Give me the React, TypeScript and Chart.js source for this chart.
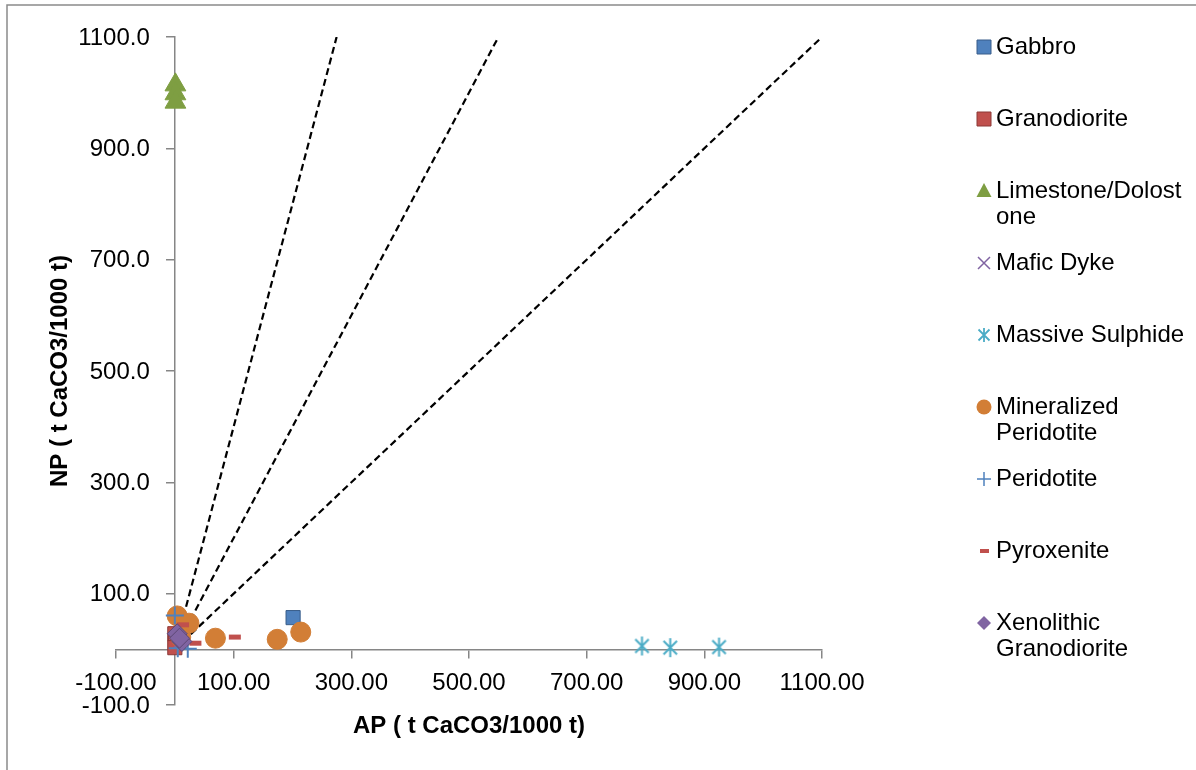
import React, { useEffect, useRef } from 'react';
import { Chart, registerables } from 'chart.js';

Chart.register(...registerables);

// ---------- data ----------
const AP_TICKS = [-100, 100, 300, 500, 700, 900, 1100];
const NP_TICKS = [-100, 100, 300, 500, 700, 900, 1100];

const gabbro = [{ x: 201, y: 57 }];
const granodiorite = [{ x: 0, y: 28 }, { x: 1, y: 12 }, { x: 0, y: 3 }];
const limestone = [{ x: 1, y: 1014 }, { x: 1, y: 998 }, { x: 1, y: 983 }];
const maficDyke = [{ x: 8, y: 12 }];
const massiveSulphide = [{ x: 794, y: 6 }, { x: 842, y: 3 }, { x: 925, y: 4 }];
const mineralizedPeridotite = [
  { x: 4, y: 60 }, { x: 24, y: 47 }, { x: 10, y: 22 },
  { x: 69, y: 20 }, { x: 174, y: 18 }, { x: 214, y: 31 },
];
const peridotite = [{ x: 0, y: 61 }, { x: 22, y: 1 }, { x: 5, y: 2 }];
const pyroxenite = [{ x: 14, y: 44 }, { x: 35, y: 11 }, { x: 102, y: 22 }];
const xenolithic = [{ x: 4, y: 28 }, { x: 12, y: 14 }, { x: 8, y: 20 }];

// NP/AP reference lines (from origin)
const ratioAP = [275, 550, 1100];
const ratioNP = [1100, 1100, 1100];

const legendLines = [
  ['Gabbro'],
  ['Granodiorite'],
  ['Limestone/Dolost', 'one'],
  ['Mafic Dyke'],
  ['Massive Sulphide'],
  ['Mineralized', 'Peridotite'],
  ['Peridotite'],
  ['Pyroxenite'],
  ['Xenolithic', 'Granodiorite'],
];

const FONT = "'Liberation Sans', Arial, sans-serif";

const C = {
  blue: '#4F81BD', blueDark: '#385D8A',
  red: '#C0504D', redDark: '#8C3836',
  green: '#7E9E42', greenDark: '#6A8835',
  purple: '#8064A2', purpleDark: '#5C4776',
  teal: '#4BACC6',
  orange: '#D27E36',
};

function asteriskCanvas(size: number, color: string, lw: number) {
  const c = document.createElement('canvas');
  c.width = size; c.height = size;
  const g = c.getContext('2d')!;
  g.strokeStyle = color; g.lineWidth = lw;
  const m = size / 2, r = size / 2 - 1;
  const d = r * Math.SQRT1_2;
  g.beginPath();
  g.moveTo(m, m - r); g.lineTo(m, m + r);
  g.moveTo(m - d, m - d); g.lineTo(m + d, m + d);
  g.moveTo(m + d, m - d); g.lineTo(m - d, m + d);
  g.stroke();
  return c;
}

type Kind = 'rect' | 'triangle' | 'crossRot' | 'asterisk' | 'circle' | 'cross' | 'dash' | 'rectRot';
const legendMarkers: { kind: Kind; fill: string; stroke: string }[] = [
  { kind: 'rect', fill: C.blue, stroke: C.blueDark },
  { kind: 'rect', fill: C.red, stroke: C.redDark },
  { kind: 'triangle', fill: C.green, stroke: C.green },
  { kind: 'crossRot', fill: C.purple, stroke: C.purple },
  { kind: 'asterisk', fill: C.teal, stroke: C.teal },
  { kind: 'circle', fill: C.orange, stroke: C.orange },
  { kind: 'cross', fill: C.blue, stroke: C.blue },
  { kind: 'dash', fill: C.red, stroke: C.red },
  { kind: 'rectRot', fill: C.purple, stroke: C.purple },
];

function drawMarker(ctx: CanvasRenderingContext2D, kind: Kind, x: number, y: number, fill: string, stroke: string) {
  ctx.save();
  ctx.fillStyle = fill; ctx.strokeStyle = stroke; ctx.lineWidth = 1;
  ctx.beginPath();
  switch (kind) {
    case 'rect':
      ctx.rect(x - 7, y - 7, 14, 14); ctx.fill(); ctx.stroke(); break;
    case 'triangle':
      ctx.moveTo(x, y - 8); ctx.lineTo(x + 7.5, y + 6); ctx.lineTo(x - 7.5, y + 6); ctx.closePath(); ctx.fill(); break;
    case 'crossRot':
      ctx.lineWidth = 1.5;
      ctx.moveTo(x - 6, y - 6); ctx.lineTo(x + 6, y + 6); ctx.moveTo(x + 6, y - 6); ctx.lineTo(x - 6, y + 6); ctx.stroke(); break;
    case 'asterisk': {
      ctx.lineWidth = 1.8;
      ctx.moveTo(x, y - 7); ctx.lineTo(x, y + 7);
      ctx.moveTo(x - 5.5, y - 5.5); ctx.lineTo(x + 5.5, y + 5.5); ctx.moveTo(x + 5.5, y - 5.5); ctx.lineTo(x - 5.5, y + 5.5);
      ctx.stroke(); break;
    }
    case 'circle':
      ctx.arc(x, y, 7.5, 0, Math.PI * 2); ctx.fill(); break;
    case 'cross':
      ctx.lineWidth = 1.5;
      ctx.moveTo(x - 7, y); ctx.lineTo(x + 7, y); ctx.moveTo(x, y - 7); ctx.lineTo(x, y + 7); ctx.stroke(); break;
    case 'dash':
      ctx.fillRect(x - 4, y - 2, 9, 4); break;
    case 'rectRot':
      ctx.moveTo(x, y - 7); ctx.lineTo(x + 7, y); ctx.lineTo(x, y + 7); ctx.lineTo(x - 7, y); ctx.closePath(); ctx.fill(); break;
  }
  ctx.restore();
}

const decorPlugin = {
  id: 'decor',
  beforeDraw(chart: any) {
    const { ctx, width, height } = chart;
    ctx.save();
    ctx.fillStyle = '#fff';
    ctx.fillRect(0, 0, width, height);
    ctx.strokeStyle = '#8A8A8A';
    ctx.lineWidth = 1.5;
    ctx.beginPath();
    ctx.moveTo(7, height);
    ctx.lineTo(7, 5);
    ctx.lineTo(width, 5);
    ctx.stroke();
    ctx.restore();
  },
  afterDraw(chart: any) {
    const { ctx, chartArea, scales } = chart;
    ctx.save();
    ctx.fillStyle = '#000';

    // y tick labels (left of the axis drawn at AP = 0)
    const yScale = scales.y;
    const axisX = scales.x.getPixelForValue(0);
    ctx.font = `24px ${FONT}`;
    ctx.textAlign = 'right';
    ctx.textBaseline = 'middle';
    yScale.ticks.forEach((t: any) => {
      ctx.fillText(Number(t.value).toFixed(1), axisX - 25, yScale.getPixelForValue(t.value) + 1);
    });

    // axis titles
    ctx.font = `bold 24px ${FONT}`;
    ctx.textAlign = 'center';
    ctx.textBaseline = 'middle';
    ctx.fillText('AP ( t CaCO3/1000 t)', (chartArea.left + chartArea.right) / 2, 726);
    ctx.save();
    ctx.translate(60, (chartArea.top + chartArea.bottom) / 2);
    ctx.rotate(-Math.PI / 2);
    ctx.fillText('NP ( t CaCO3/1000 t)', 0, 0);
    ctx.restore();

    // legend
    ctx.font = `24px ${FONT}`;
    ctx.textAlign = 'left';
    legendLines.forEach((lines, i) => {
      const y = 47 + i * 72;
      const m = legendMarkers[i];
      drawMarker(ctx, m.kind, 984, y, m.fill, m.stroke);
      lines.forEach((t, j) => ctx.fillText(t, 996, y + j * 26));
    });
    ctx.restore();
  },
};

export default function App() {
  const ref = useRef<HTMLCanvasElement>(null);
  useEffect(() => {
    if (!ref.current) return;
    const star = asteriskCanvas(21, C.teal, 2);
    const pt = (data: any[], label: string, style: any, order: number, extra: any = {}) => ({
      label, data, pointStyle: style, order, showLine: false, ...extra,
    });
    const lines = ratioAP.map((ap, i) => ({
      label: 'ratio' + i,
      data: [{ x: 0, y: 0 }, { x: ap, y: ratioNP[i] }],
      showLine: true, pointRadius: 0, borderColor: '#000', borderWidth: 2.2,
      borderDash: [7, 4], order: 20, fill: false,
    }));
    const chart = new Chart(ref.current, {
      type: 'scatter',
      data: {
        datasets: [
          ...lines,
          pt(gabbro, 'Gabbro', 'rect', 9, { pointRadius: 10, pointBackgroundColor: C.blue, pointBorderColor: C.blueDark, pointBorderWidth: 1 }),
          pt(granodiorite, 'Granodiorite', 'rect', 8, { pointRadius: 10, pointBackgroundColor: C.red, pointBorderColor: C.redDark, pointBorderWidth: 1 }),
          pt(limestone, 'Limestone/Dolostone', 'triangle', 7, { pointRadius: 12, pointBackgroundColor: C.green, pointBorderColor: C.green, pointBorderWidth: 1 }),
          pt(maficDyke, 'Mafic Dyke', 'crossRot', 6, { pointRadius: 8, pointBackgroundColor: C.purple, pointBorderColor: C.purple, pointBorderWidth: 2 }),
          pt(massiveSulphide, 'Massive Sulphide', star, 5, { pointRadius: 10 }),
          pt(mineralizedPeridotite, 'Mineralized Peridotite', 'circle', 4, { pointRadius: 10, pointBackgroundColor: C.orange, pointBorderColor: C.orange, pointBorderWidth: 1 }),
          pt(peridotite, 'Peridotite', 'cross', 3, { pointRadius: 9, pointBackgroundColor: C.blue, pointBorderColor: C.blue, pointBorderWidth: 2 }),
          pt(pyroxenite, 'Pyroxenite', 'line', 2, { pointRadius: 6, pointBackgroundColor: C.red, pointBorderColor: C.red, pointBorderWidth: 5 }),
          pt(xenolithic, 'Xenolithic Granodiorite', 'rectRot', 1, { pointRadius: 10, pointBackgroundColor: C.purple, pointBorderColor: C.purpleDark, pointBorderWidth: 1 }),
        ] as any,
      },
      options: {
        responsive: false,
        animation: false,
        events: [],
        layout: { padding: { left: 116, right: 374, top: 37, bottom: 65 } },
        plugins: { legend: { display: false }, tooltip: { enabled: false }, title: { display: false } },
        scales: {
          x: {
            type: 'linear', min: -100, max: 1100,
            position: { y: 0 } as any,
            afterBuildTicks: (s: any) => { s.ticks = AP_TICKS.map((v) => ({ value: v })); },
            ticks: {
              callback: (v: any) => Number(v).toFixed(2),
              font: { family: FONT, size: 24 }, color: '#000', padding: 12,
              maxRotation: 0, autoSkip: false,
            },
            grid: { display: true, drawOnChartArea: false, drawTicks: true, tickLength: 8, color: '#868686', lineWidth: 1.5 },
            border: { display: true, color: '#868686', width: 1.5 },
          },
          y: {
            type: 'linear', min: -100, max: 1100,
            position: { x: 0 } as any,
            afterBuildTicks: (s: any) => { s.ticks = NP_TICKS.map((v) => ({ value: v })); },
            ticks: { display: false, autoSkip: false },
            grid: { display: true, drawOnChartArea: false, drawTicks: true, tickLength: 8, color: '#868686', lineWidth: 1.5 },
            border: { display: true, color: '#868686', width: 1.5 },
          },
        },
      } as any,
      plugins: [decorPlugin],
    });
    return () => chart.destroy();
  }, []);
  return (
    <div style={{ position: 'absolute', left: 0, top: 0, width: 1196, height: 770 }}>
      <canvas ref={ref} width={1196} height={770} style={{ display: 'block', width: 1196, height: 770 }} />
    </div>
  );
}
